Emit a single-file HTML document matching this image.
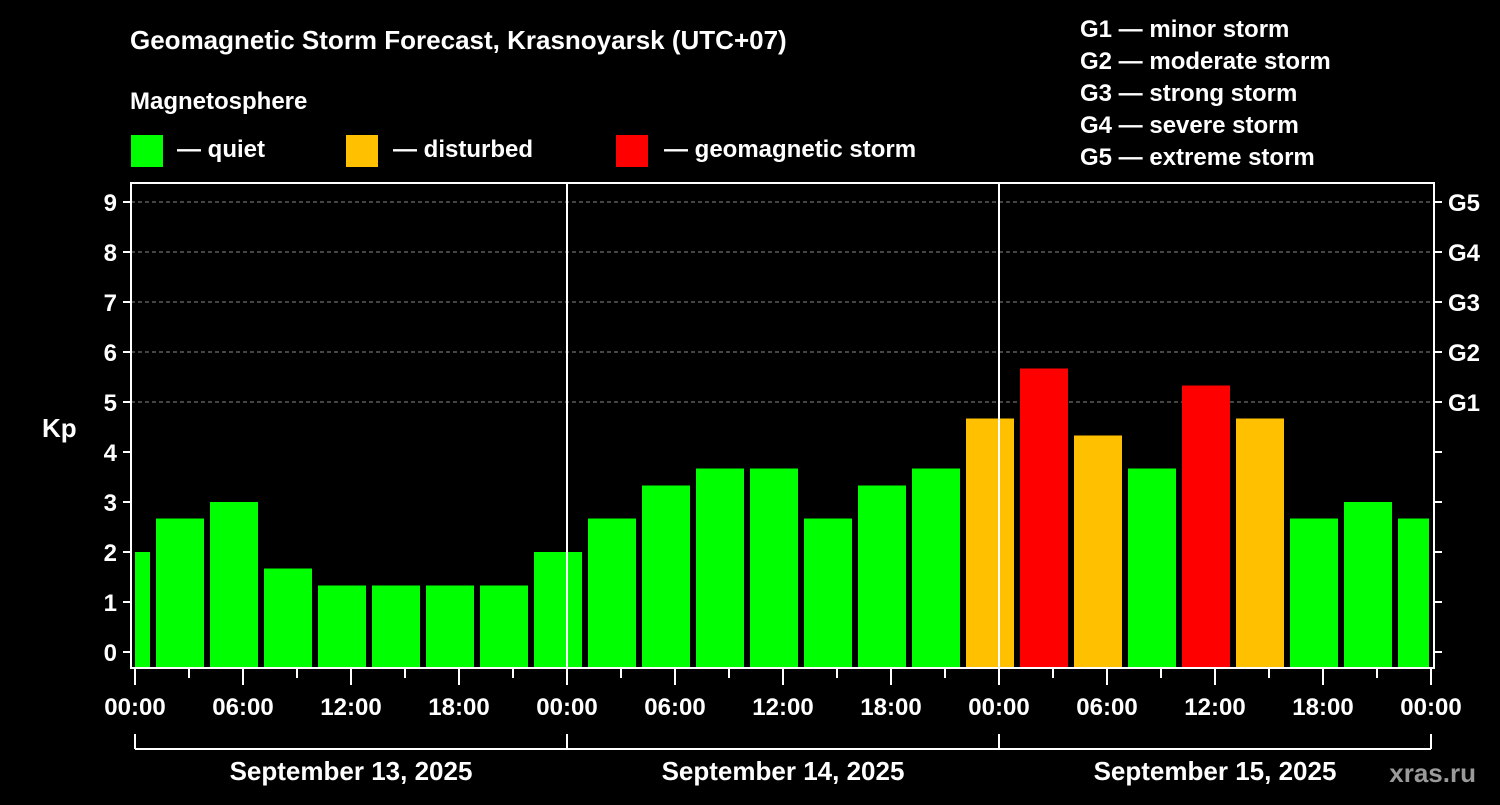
<!DOCTYPE html>
<html><head><meta charset="utf-8"><style>
html,body{margin:0;padding:0;background:#000;}
svg text{font-family:"Liberation Sans",Arial,sans-serif;font-weight:bold;fill:#fff;}
</style></head><body>
<svg width="1500" height="800" viewBox="0 0 1500 800" xmlns="http://www.w3.org/2000/svg">
<rect width="1500" height="800" fill="#000"/>
<text x="130" y="49" font-size="26">Geomagnetic Storm Forecast, Krasnoyarsk (UTC+07)</text>
<text x="130" y="109" font-size="24">Magnetosphere</text>
<rect x="131" y="135" width="32" height="32" fill="#00ff00"/>
<text x="177" y="157" font-size="24">— quiet</text>
<rect x="346" y="135" width="32" height="32" fill="#ffc000"/>
<text x="393" y="157" font-size="24">— disturbed</text>
<rect x="616" y="135" width="32" height="32" fill="#ff0000"/>
<text x="664" y="157" font-size="24">— geomagnetic storm</text>
<g font-size="24">
<text x="1080" y="37">G1 — minor storm</text>
<text x="1080" y="69">G2 — moderate storm</text>
<text x="1080" y="101">G3 — strong storm</text>
<text x="1080" y="133">G4 — severe storm</text>
<text x="1080" y="165">G5 — extreme storm</text>
</g>
<text x="42" y="437" font-size="26">Kp</text>
<text x="1476" y="782" font-size="26" text-anchor="end" fill="#9a9a9a" style="fill:#9a9a9a">xras.ru</text>
<g id="plot"></g>
</svg>
<script>
const dayLabels = ["September 13, 2025","September 14, 2025","September 15, 2025"];
const timeLabels = ["00:00","06:00","12:00","18:00"];
const firstValue = 2;
const kpValues = [2.67,3,1.67,1.33,1.33,1.33,1.33,2, 2.67,3.33,3.67,3.67,2.67,3.33,3.67,4.67, 5.67,4.33,3.67,5.33,4.67,2.67,3,2.67];
const yTicks = [0,1,2,3,4,5,6,7,8,9];
const gLabels = [[5,"G1"],[6,"G2"],[7,"G3"],[8,"G4"],[9,"G5"]];

const NS="http://www.w3.org/2000/svg";
const g=document.getElementById('plot');
const X0=135, PX_H=18, HOURS=72, Y0=652, PX_K=50, BOT=668, TOP=183, L=131, R=1434;
const xs=h=>X0+h*PX_H, ys=k=>Y0-k*PX_K;
function mk(t,a,txt){const e=document.createElementNS(NS,t);for(const k in a)e.setAttribute(k,a[k]);if(txt!=null)e.textContent=txt;g.appendChild(e);return e;}
function col(v){return v>=5?"#ff0000":v>=4?"#ffc000":"#00ff00";}
// grid
for(const k of yTicks){ if(k>=5){const l=mk('line',{x1:L,x2:R,y1:ys(k),y2:ys(k),stroke:'#888','stroke-dasharray':'4,3','stroke-width':1});

}}
// bars
const gap=3;
let b=mk('rect',{x:xs(0),y:ys(firstValue),width:xs(1)-gap-xs(0),height:BOT-ys(firstValue),fill:col(firstValue)});


kpValues.forEach((v,i)=>{const h0=1+3*i, h1=Math.min(h0+3,HOURS);
 const x1=xs(h0)+gap, x2=(h1===HOURS?xs(h1)-2:xs(h1)-gap);
 const r=mk('rect',{x:x1,y:ys(v),width:x2-x1,height:BOT-ys(v),fill:col(v)});
 
 });
// day separators
for(const d of [1,2]){const l=mk('line',{x1:xs(24*d),x2:xs(24*d),y1:TOP,y2:BOT,stroke:'#fff','stroke-width':2});

}
// frame
const fr=mk('rect',{x:L,y:TOP,width:R-L,height:BOT-TOP,fill:'none',stroke:'#fff','stroke-width':2});


// y ticks
for(const k of yTicks){
 mk('line',{x1:L-8,x2:L,y1:ys(k),y2:ys(k),stroke:'#fff','stroke-width':2});
 mk('line',{x1:R,x2:R+8,y1:ys(k),y2:ys(k),stroke:'#fff','stroke-width':2});
 const t=mk('text',{x:L-14,y:ys(k)+9,'font-size':24,'text-anchor':'end'},String(k));
 
 }
for(const [k,s] of gLabels){const t=mk('text',{x:1448,y:ys(k)+9,'font-size':24},s);
 
 }
// x ticks
for(let h=0;h<=HOURS;h+=3){const major=h%6===0;
 mk('line',{x1:xs(h),x2:xs(h),y1:BOT,y2:BOT+(major?17:10),stroke:'#fff','stroke-width':2});
 if(major){const t=mk('text',{x:xs(h),y:715,'font-size':24,'text-anchor':'middle'},timeLabels[(h/6)%4]);
 
 }}
// day bracket
mk('line',{x1:xs(0),x2:xs(HOURS),y1:749,y2:749,stroke:'#fff','stroke-width':2});
for(let d=0;d<=3;d++) mk('line',{x1:xs(24*d),x2:xs(24*d),y1:734,y2:749,stroke:'#fff','stroke-width':2});
dayLabels.forEach((s,d)=>{const t=mk('text',{x:xs(24*d+12),y:780,'font-size':26,'text-anchor':'middle'},s);
 
 });
</script>
</body></html>
